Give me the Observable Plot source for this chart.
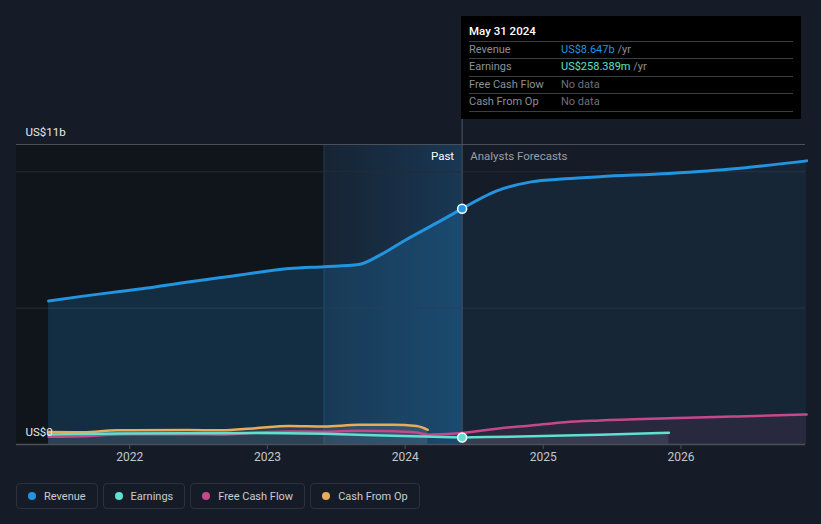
<!DOCTYPE html>
<html>
<head>
<meta charset="utf-8">
<script src="https://cdn.jsdelivr.net/npm/d3@7"></script>
<script src="https://cdn.jsdelivr.net/npm/@observablehq/plot@0.6"></script>
<style>
  html, body { margin: 0; padding: 0; background: #161c27; width: 821px; height: 524px; overflow: hidden; font-family: Roboto, "Open Sans", sans-serif; }
  #wrap { position: relative; width: 821px; height: 524px; }
  #chart { position: absolute; left: 0; top: 0; }
  #tip { position: absolute; left: 461px; top: 16px; width: 340px; height: 103px; background: #000; box-sizing: border-box; font-size: 11px; }
  #tip .title { position: absolute; left: 8px; top: 8px; color: #fff; font-size: 11.5px; font-weight: 500; }
  #tip .row { position: absolute; left: 8px; width: 324px; height: 17px; border-top: 1px solid #3a3f47; }
  #tip .row .lab { position: absolute; left: 0; top: 0px; line-height: 15px; color: #8b9099; }
  #tip .row .val { position: absolute; left: 92px; top: 0px; line-height: 15px; color: #6b7079; }
  #tip .last { position: absolute; left: 8px; width: 324px; top: 95px; border-top: 1px solid #3a3f47; }
  #legend { position: absolute; left: 16px; top: 483px; display: flex; gap: 5px; }
  .item { height: 26px; box-sizing: border-box; border: 1px solid #2c323c; border-radius: 4px; display: flex; align-items: center; padding: 0 11px 0 11px; color: #c9ccd1; font-size: 11px; }
  .item .dot { width: 8px; height: 8px; border-radius: 50%; margin-right: 8px; }
</style>
</head>
<body>
<div id="wrap">
  <div id="chart"></div>
  <div id="tip"></div>
  <div id="legend"></div>
</div>
<script>
// ---- data (values in US$ billions) ----
const revenuePastDates = ["2021-05-31","2021-08-31","2021-11-30","2022-02-28","2022-05-31","2022-08-31","2022-11-30","2023-02-28","2023-05-31","2023-08-31","2023-10-31","2023-12-31","2024-03-31","2024-05-31"];
const revenuePastValues = [5.26, 5.44, 5.60, 5.76, 5.95, 6.12, 6.30, 6.45, 6.52, 6.60, 6.98, 7.48, 8.17, 8.647];
const revenueFcDates = ["2024-05-31","2024-08-31","2024-11-30","2025-02-28","2025-05-31","2025-11-30","2026-05-31","2026-11-30"];
const revenueFcValues = [8.647, 9.30, 9.63, 9.74, 9.82, 9.94, 10.12, 10.40];

const earningsPastDates = ["2021-05-31","2021-11-30","2022-05-31","2022-11-30","2023-05-31","2023-11-30","2024-05-31"];
const earningsPastValues = [0.37, 0.40, 0.41, 0.42, 0.39, 0.32, 0.258389];
const earningsFcDates = ["2024-05-31","2024-11-30","2025-05-31","2025-11-30"];
const earningsFcValues = [0.258389, 0.30, 0.36, 0.43];

const fcfDates = ["2021-05-31","2021-08-31","2021-11-30","2022-05-31","2022-08-31","2022-11-30","2023-02-28","2023-05-31","2023-08-31","2023-11-30","2024-01-31","2024-03-01","2024-05-31"];
const fcfValues = [0.28, 0.30, 0.37, 0.38, 0.37, 0.43, 0.48, 0.47, 0.50, 0.49, 0.44, 0.36, 0.42];
const fcfFcDates = ["2024-05-31","2024-08-31","2024-11-30","2025-02-28","2025-05-31","2025-11-30","2026-05-31","2026-11-30"];
const fcfFcValues = [0.42, 0.58, 0.70, 0.82, 0.88, 0.96, 1.03, 1.10];

const cfoDates = ["2021-05-31","2021-08-31","2021-11-30","2022-05-31","2022-08-31","2022-11-30","2023-02-28","2023-05-31","2023-08-31","2023-11-30","2024-01-31","2024-03-01"];
const cfoValues = [0.46, 0.45, 0.52, 0.53, 0.52, 0.60, 0.68, 0.66, 0.72, 0.72, 0.68, 0.54];

const yearTicks = ["2022-01-01","2023-01-01","2024-01-01","2025-01-01","2026-01-01"];
const gridValues = [5, 10];
const yLabelValues = [0, 11];
const yLabels = ["US$0", "US$11b"];
const pastStart = "2023-05-31";
const nowDate = "2024-05-31";
const domainDates = ["2021-03-07", "2026-11-27"];

const colors = { revenue: "#2394df", earnings: "#5ee1cf", fcf: "#c5478c", cfo: "#e6ac5a" };
const seriesNames = ["Revenue", "Earnings", "Free Cash Flow", "Cash From Op"];
const seriesColors = [colors.revenue, colors.earnings, colors.fcf, colors.cfo];

// ---- build tables ----
const P = d3.utcParse("%Y-%m-%d");
const mk = (ds, vs) => ds.map((d, i) => ({ date: P(d), value: vs[i] }));
const revPast = mk(revenuePastDates, revenuePastValues);
const revFc = mk(revenueFcDates, revenueFcValues);
const earnPast = mk(earningsPastDates, earningsPastValues);
const earnFc = mk(earningsFcDates, earningsFcValues);
const fcfPast = mk(fcfDates, fcfValues);
const fcfFc = mk(fcfFcDates, fcfFcValues);
const cfo = mk(cfoDates, cfoValues);
const xMin = P(domainDates[0]), xMax = P(domainDates[1]);
const tPast = P(pastStart), tNow = P(nowDate);

const curve = "monotone-x";

const plot = Plot.plot({
  width: 821,
  height: 470,
  marginLeft: 16,
  marginRight: 16,
  marginTop: 144,
  marginBottom: 26,
  style: { background: "transparent", fontFamily: "Roboto, sans-serif", overflow: "visible" },
  x: { type: "utc", domain: [xMin, xMax] },
  y: { domain: [0, 11], axis: null },
  marks: [
    Plot.rectX([0], { x1: () => xMin, x2: () => tPast, y1: 0, y2: 11, fill: "#10141b" }),
    Plot.rectX([0], { x1: () => tPast, x2: () => tNow, y1: 0, y2: 11, fill: "url(#pastGrad)" }),
    Plot.ruleX([tPast], { y1: 0, y2: 11, stroke: "#25425c", strokeOpacity: 0.7 }),
    Plot.ruleY(gridValues, { stroke: "#262c37", strokeWidth: 1 }),
    Plot.ruleY([11], { stroke: "#4a4f58", strokeWidth: 1 }),
    Plot.areaY(revPast, { x: "date", y: "value", fill: colors.revenue, fillOpacity: 0.2, curve }),
    Plot.areaY(revFc, { x: "date", y: "value", fill: colors.revenue, fillOpacity: 0.09, curve }),
    Plot.areaY(cfo, { x: "date", y: "value", fill: "#9aa0a8", fillOpacity: 0.18, curve }),
    Plot.areaY(fcfFc, { x: "date", y: "value", fill: colors.fcf, fillOpacity: 0.1, curve }),
    Plot.areaY(earnFc, { x: "date", y: "value", fill: "#7d8c9c", fillOpacity: 0.2, curve }),
    Plot.ruleX([tNow], { y1: 0, y2: 11.92, stroke: "#4a5968", strokeWidth: 1 }),
    Plot.lineY(cfo, { x: "date", y: "value", stroke: colors.cfo, strokeWidth: 2.5, curve }),
    Plot.lineY(fcfPast, { x: "date", y: "value", stroke: colors.fcf, strokeWidth: 2.5, curve }),
    Plot.lineY(fcfFc, { x: "date", y: "value", stroke: colors.fcf, strokeWidth: 2.5, curve }),
    Plot.lineY(earnPast, { x: "date", y: "value", stroke: colors.earnings, strokeWidth: 2.5, curve }),
    Plot.lineY(earnFc, { x: "date", y: "value", stroke: colors.earnings, strokeWidth: 2.5, curve }),
    Plot.lineY(revPast, { x: "date", y: "value", stroke: colors.revenue, strokeWidth: 3, curve }),
    Plot.lineY(revFc, { x: "date", y: "value", stroke: colors.revenue, strokeWidth: 3, curve }),
    Plot.dot([revPast[revPast.length - 1]], { x: "date", y: "value", r: 4.5, fill: colors.revenue, stroke: "#fff", strokeWidth: 1.5 }),
    Plot.dot([earnPast[earnPast.length - 1]], { x: "date", y: "value", r: 4.5, fill: colors.earnings, stroke: "#fff", strokeWidth: 1.5 }),
    Plot.ruleY([0], { stroke: "#4a4f58", strokeWidth: 1.5 }),
    Plot.axisX(yearTicks.map(P), { tickFormat: d3.utcFormat("%Y"), tickSize: 5, tickPadding: 3, stroke: "#4a4f58", fill: "#c3c7cd", fontSize: 12 }),
    Plot.text(yLabelValues, { x: () => xMin, y: d => d, text: (d, i) => yLabels[i], dx: 9, dy: -12, textAnchor: "start", fill: "#e6e8eb", fontSize: 11.5 }),
    Plot.text(["Past"], { x: () => tNow, y: () => 11, text: d => d, dx: -8, dy: 12, textAnchor: "end", fill: "#ffffff", fontSize: 11.5 }),
    Plot.text(["Analysts Forecasts"], { x: () => tNow, y: () => 11, text: d => d, dx: 8, dy: 12, textAnchor: "start", fill: "#9a9ea6", fontSize: 11.5 })
  ]
});

const ns = "http://www.w3.org/2000/svg";
const defs = document.createElementNS(ns, "defs");
defs.innerHTML = '<linearGradient id="pastGrad" x1="0" x2="1" y1="0" y2="0">' +
  '<stop offset="0" stop-color="#1f6aa8" stop-opacity="0.10"/>' +
  '<stop offset="1" stop-color="#1f7ac0" stop-opacity="0.30"/></linearGradient>';
plot.insertBefore(defs, plot.firstChild);
document.getElementById("chart").appendChild(plot);

// tooltip
const tip = document.getElementById("tip");
const rows = [
  ["Revenue", '<span style="color:' + colors.revenue + '">US$' + revenuePastValues[revenuePastValues.length - 1].toFixed(3) + 'b</span><span style="color:#8b9099"> /yr</span>'],
  ["Earnings", '<span style="color:' + colors.earnings + '">US$' + (earningsPastValues[earningsPastValues.length - 1] * 1000).toFixed(3) + 'm</span><span style="color:#8b9099"> /yr</span>'],
  ["Free Cash Flow", "No data"],
  ["Cash From Op", "No data"]
];
let html = '<div class="title">' + d3.utcFormat("%b %d %Y")(tNow) + '</div>';
rows.forEach((r, i) => {
  html += '<div class="row" style="top:' + (25 + i * 17.3) + 'px"><span class="lab">' + r[0] + '</span><span class="val">' + r[1] + '</span></div>';
});
html += '<div class="last"></div>';
tip.innerHTML = html;

// legend
const legend = document.getElementById("legend");
seriesNames.forEach((n, i) => {
  const el = document.createElement("div");
  el.className = "item";
  el.innerHTML = '<span class="dot" style="background:' + seriesColors[i] + '"></span>' + n;
  legend.appendChild(el);
});
</script>
</body>
</html>
